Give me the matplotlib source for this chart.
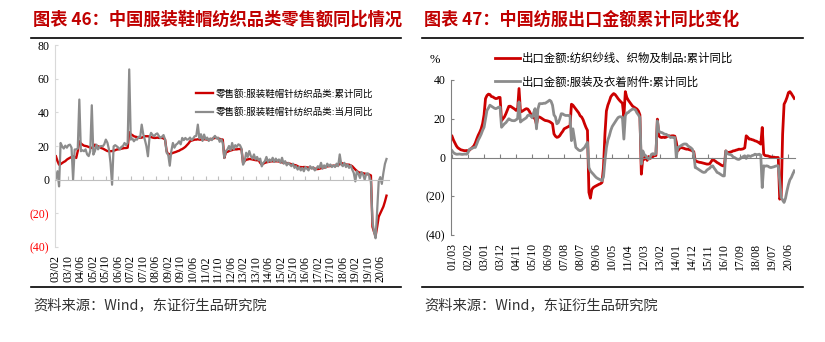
import matplotlib
matplotlib.use("Agg")
import matplotlib.pyplot as plt
import pandas as pd

plt.rcParams['font.family'] = ['Noto Sans CJK SC', 'DejaVu Sans']

RED = '#CC0000'
GRAY = '#8C8C8C'
TITLE_RED = '#C00000'

# ---- chart 46: retail sales of clothing/shoes/hats/textiles, 2003/02 - 2020/10
retail_start = '2003-02'
retail_cum = [
    13.9, 11, 8.9, 9.2, 9.9, 10.5, 11, 11.9, 12.5, 13, 13.5,              # 2003
    13.9, 13.5, 12.9, 17, 22.8, 21.5, 20.8, 20.2, 20, 19.8, 19.4, 19.2,   # 2004
    18.8, 19.5, 20.8, 20.2, 19.8, 19.5, 18.8, 18.5, 18, 17.5, 17, 16.9,   # 2005
    16.9, 17, 17.2, 17.5, 17.9, 18, 18.2, 18.4, 18.6, 18.8, 18.8, 19,     # 2006
    28.2, 27, 26.5, 25.8, 25.5, 25.3, 25, 24.8, 25, 25.3, 25.8, 25.8,     # 2007
    25.8, 25.5, 25.3, 25, 24.8, 24.8, 25, 24.8, 24.8, 24.8, 24.5, 23.8,   # 2008
    17, 14.9, 15.2, 15.5, 15.9, 16.2, 16.5, 16.9, 17.2, 17.8, 18.2, 18.8,  # 2009
    19.5, 20.5, 21.5, 22.8, 23.2, 23.5, 23.8, 23.8, 24, 23.8, 23.8, 23.8,  # 2010
    24, 24, 23.8, 23.8, 24, 24.2, 24.5, 24.8, 24.8, 24.5, 24.2, 24,       # 2011
    23.8, 12.9, 16.3, 16.5, 17, 17.3, 17.6, 17.9, 18, 18, 18.2, 18.2,     # 2012
    18, 9.9, 11, 11.9, 12, 12.3, 12.2, 12, 11.8, 11.6, 11.5, 11.5,        # 2013
    10, 8.9, 9.5, 10, 10.3, 10.5, 10.7, 10.9, 10.9, 10.9, 10.9, 10.9,     # 2014
    10.8, 10.5, 10.3, 10, 9.9, 9.9, 9.7, 9.5, 9.2, 8.9, 8.7, 8.5,         # 2015
    8, 7.5, 7.5, 7.4, 7.5, 7.5, 7.3, 7.2, 7, 7, 6.8, 6.6,                 # 2016
    6.3, 6.3, 6.5, 6.8, 7, 7.2, 7.5, 7.9, 8, 8.1, 8.2, 8.3,               # 2017
    8.3, 8.5, 8.8, 9.2, 9.9, 9.6, 9.3, 9, 8.9, 8.9, 8.5, 8,               # 2018
    7, 6, 5.2, 4.4, 4.2, 4, 3.8, 3.6, 3.4, 3.2, 3, 2.5,                   # 2019
    -28, -31, -33.5, -28, -22, -20, -18, -16, -13, -9.5,                  # 2020
]
retail_month = [
    1, 5, -4, 21.8, 19.8, 18.5, 20.2, 19, 20.5, 20.8, 19,                 # 2003
    0, 17.9, 18, 18.5, 47.6, 16.9, 17.5, 16.9, 18, 15, 14, 17,            # 2004
    44.2, 14.9, 17, 20.8, 18, 19.5, 20, 19.8, 21, 23.8, 22, 18,           # 2005
    10, -3, 19.8, 20.5, 19.8, 19, 17.9, 19.5, 20, 21.8, 20.5, 21.8,       # 2006
    65.5, 23.8, 24.5, 22.8, 24, 23.8, 25.5, 25, 32.7, 27, 23.8, 20,       # 2007
    13.9, 25, 27.8, 26.5, 25.8, 27, 27.5, 26, 24.8, 25.5, 26.5, 23.8,     # 2008
    16, 14.9, 8.3, 17, 21.8, 19, 20.8, 21.5, 22.8, 21, 24.8, 23.5,        # 2009
    24.8, 23.8, 24, 25, 23.5, 24.5, 25.8, 26, 32.7, 24.5, 27, 23,         # 2010
    26.8, 24, 25, 23, 24.5, 23.5, 25, 26, 24.5, 25, 22.5, 24,             # 2011
    21.8, 12.9, 17, 18, 20, 17.5, 21.8, 18, 20.5, 19.5, 21, 20.5,         # 2012
    18.5, 8.9, 11, 16, 13.5, 17, 14, 12.5, 15, 12, 13.5, 11.5,            # 2013
    12.5, 7.9, 10, 11, 13.5, 10.5, 12, 11, 13, 10.5, 12.5, 11,            # 2014
    12, 10, 13, 9.5, 11, 8.5, 10, 9, 8, 9.5, 7, 8,                        # 2015
    6, 7.5, 5.5, 7, 5, 7.5, 6.5, 5.5, 8, 6.5, 7.5, 5.5,                   # 2016
    6.5, 8, 7, 10, 6.5, 8.5, 7, 9.5, 8, 9, 7.5, 8.5,                      # 2017
    7.5, 9.5, 8, 15, 9, 8, 10, 7.5, 9, 7, 8.5, 6,                         # 2018
    4, -1, 5, 3.5, 1, 4.5, 3, 0, 3.5, 3.8, 2, -1,                         # 2019
    -25, -31, -34.8, -18.5, -1, 1.5, -2.5, 4, 9.4, 12.3,                  # 2020
]
retail_labels = ['零售额:服装鞋帽针纺织品类:累计同比',
                 '零售额:服装鞋帽针纺织品类:当月同比']

# ---- chart 47: textile / apparel exports, cumulative yoy, 2001/03 - 2020/10
export_start = '2001-03'
textile_cum = [
    11, 9, 7.5, 6, 5, 4.5, 4, 3.8, 3.6, 3.5,                              # 2001
    3.6, 3.5, 3.8, 4.5, 5.2, 6, 7.5, 9.6, 11.5, 13, 14.8, 17.5,           # 2002
    22, 30.4, 32, 32.7, 32.5, 31.5, 31.3, 30.8, 30.4, 30.5, 31, 31,       # 2003
    19, 20, 21, 22.6, 24.5, 26.4, 26.5, 26, 25.5, 25, 24.3, 24.5,         # 2004
    35.6, 23.5, 23.8, 24.3, 24.8, 25.2, 25, 24, 22.5, 21.7, 20.5, 20,     # 2005
    17, 21, 20.9, 20.5, 20, 19.5, 19.1, 19, 18.8, 18.5, 18, 17.4,         # 2006
    12.2, 11, 10.4, 10.6, 11.3, 12.5, 13.5, 14.8, 15.2, 15.6, 16, 16.2,   # 2007
    27.5, 27, 26, 25, 24, 23, 21.5, 20.9, 19.5, 17.4, 15.5, 14,           # 2008
    -18, -21, -16.5, -15.5, -15, -14.6, -14.2, -13.8, -13.5, -12.9, -5, 12,  # 2009
    24, 27, 29, 31.3, 32.3, 33, 32.5, 31.5, 30.4, 29.5, 28.7, 28,         # 2010
    20.9, 34, 31, 29.6, 28.5, 27.5, 26.5, 26, 25.5, 25, 24, 22,           # 2011
    -8.6, 0, -1, 0.5, -1.5, 0.5, -0.5, 0, 0.5, 1, 1, 19.8,                # 2012
    11.2, 10.5, 10.3, 10.5, 10.3, 10.5, 11, 11.2, 11, 11.2, 11.2, 11,     # 2013
    8, 3.4, 4.5, 5.2, 5, 4.8, 4.5, 4.3, 4.3, 4, 3.8, 3.4,                 # 2014
    3, -1.7, -2, -2.3, -2.5, -2.6, -2.8, -3, -3.2, -3.4, -3.4, -3.2,      # 2015
    -2, -0.9, -1.5, -2, -2.6, -3, -3.5, -4, -4.3, -4.3, 3.4, 2.6,         # 2016
    2.6, 2.8, 3, 3.4, 3.5, 3.8, 4, 4.3, 4.2, 4.3, 4.5, 5,                 # 2017
    11.2, 10.5, 9.5, 9.5, 9.2, 9, 8.6, 8.4, 8, 7.5, 6.9, 15.5,            # 2018
    1.7, 1, 0.9, 0.8, 0.5, 0.3, 0, 0.2, 0, 0, 0, -21.5,                   # 2019
    -20, 12, 27.5, 29, 31, 33.5, 34, 33, 31.8, 30.5,                      # 2020
]
apparel_cum = [
    3.5, 2.5, 2, 1.7, 1.7, 1.8, 1.7, 1.6, 1.7, 1.8,                       # 2001
    1.7, 2.5, 4.3, 4.5, 4.8, 5.2, 5.2, 7, 9, 10.4, 12, 14,                # 2002
    15.6, 20, 24.3, 25.5, 27, 26.5, 26, 25.5, 25.2, 25.5, 26, 26,         # 2003
    15.6, 16.5, 17.4, 18, 19, 20, 19.5, 19.1, 19, 19, 19.5, 20,           # 2004
    28.7, 18.3, 19, 19.5, 20, 20.5, 21.7, 22, 21.5, 20.5, 23, 25.2,       # 2005
    14.8, 25, 27.8, 27.8, 27.8, 28, 28, 28.5, 29, 29.6, 29, 27,           # 2006
    22, 20.9, 17.4, 18, 20, 22.6, 22.5, 22, 21.7, 21.7, 21.7, 21.5,       # 2007
    8.7, 14.8, 10, 5.2, 4.5, 3.8, 3.5, 3.8, 4.5, 5.2, 6.5, 7.8,           # 2008
    -5.2, -6.9, -7.8, -8.6, -9.5, -10.3, -10.8, -11.2, -11.5, -12, -10, -1.7,  # 2009
    5, 9, 11.2, 14, 16, 17.2, 18.5, 19.5, 20.6, 21, 21, 20.8,             # 2010
    9.5, 21.5, 23, 23.2, 24, 24.5, 25, 25, 24.5, 23, 22, 20.6,            # 2011
    -3.4, 3.4, 1.5, 0.9, 0, -0.9, 0, 1.7, 2, 1.5, 2, 18.9,                # 2012
    13.7, 13, 12.9, 12.5, 12, 12, 11.5, 11, 10.3, 10.5, 10.3, 10.3,       # 2013
    0, 5.2, 5.5, 6, 6.5, 6.9, 7, 6.9, 6, 5.5, 5, 4.3,                     # 2014
    2, -5.2, -5.5, -6, -6.5, -7, -7.5, -7.7, -7.5, -6.5, -6, -5.5,        # 2015
    -4.5, -4.3, -5.5, -6.5, -7.7, -8, -8.5, -9, -9.5, -9.5, 3.4, 2,       # 2016
    1.7, 1.5, 1.2, 0.3, 0, -0.5, -0.9, -1, -0.5, 0, 0.5, 0.9,             # 2017
    -0.5, 0.9, 0.8, 0.5, 1, 1.2, 1.7, 1.5, 1.5, 1.7, 1.2, -15.5,          # 2018
    -4.3, -4.5, -4.3, -4.5, -5, -5.2, -5, -4.8, -4.5, -4.3, -4.3, -12,    # 2019
    -20.6, -22, -23.2, -21, -17.2, -14, -11.5, -10.3, -8.5, -6.9,         # 2020
]
export_labels = ['出口金额:纺织纱线、织物及制品:累计同比',
                 '出口金额:服装及衣着附件:累计同比']

titles = ['图表 46：中国服装鞋帽纺织品类零售额同比情况',
          '图表 47：中国纺服出口金额累计同比变化']
source = '资料来源：Wind，东证衍生品研究院'


def paren_fmt(v):
    v = int(round(v))
    return '({})'.format(-v) if v < 0 else str(v)


def setup_axis(ax, n, step, start, yticks, zero_color, spine_color):
    dates = pd.date_range(start, periods=n, freq='MS')
    ticks = list(range(0, n, step))
    labels = [dates[i].strftime('%y/%m') for i in ticks]
    for side in ['top', 'right']:
        ax.spines[side].set_visible(False)
    ax.spines['left'].set_color(spine_color)
    ax.spines['bottom'].set_position(('data', 0))
    ax.spines['bottom'].set_color(zero_color)
    ax.set_xticks(ticks)
    ax.tick_params(axis='x', direction='in', length=3, color=zero_color,
                   labelbottom=False)
    sec = ax.secondary_xaxis('bottom')
    sec.set_xticks(ticks)
    sec.set_xticklabels(labels, rotation=90, family='Liberation Serif',
                        fontsize=8.5)
    sec.tick_params(length=0, pad=6)
    sec.spines['bottom'].set_visible(False)
    ax.set_yticks(yticks)
    ax.set_yticklabels([paren_fmt(v) for v in yticks],
                       family='Liberation Serif', fontsize=8.5)
    ax.tick_params(axis='y', direction='in', length=2, color=spine_color,
                   pad=4)
    ax.set_ylim(yticks[0], yticks[-1])
    return sec


fig = plt.figure(figsize=(8.25, 3.42), dpi=100)

# left chart
ax1 = fig.add_axes([55 / 825, 95 / 342, 334 / 825, 202 / 342])
n1 = len(retail_cum)
x1 = list(range(n1))
ax1.plot(x1, retail_cum, color=RED, lw=1.7, label=retail_labels[0])
ax1.plot(x1, retail_month, color=GRAY, lw=1.6, label=retail_labels[1])
setup_axis(ax1, n1, 8, retail_start, [-40, -20, 0, 20, 40, 60, 80],
           '#BFBFBF', '#D9D9D9')
ax1.set_xlim(-0.6, n1 + 0.6)
for t, v in zip(ax1.get_yticklabels(), [-40, -20, 0, 20, 40, 60, 80]):
    if v < 0:
        t.set_color('#FF0000')
ax1.legend(loc='upper left', bbox_to_anchor=(196 / 825, 1 - 89 / 342),
           bbox_transform=fig.transFigure, frameon=False, fontsize=6.8,
           handlelength=1.85, handletextpad=0.2, labelspacing=0.95,
           borderpad=0, borderaxespad=0)

# right chart
ax2 = fig.add_axes([451 / 825, 107 / 342, 344 / 825, 155 / 342])
n2 = len(textile_cum)
x2 = list(range(n2))
ax2.plot(x2, textile_cum, color=RED, lw=2, label=export_labels[0])
ax2.plot(x2, apparel_cum, color=GRAY, lw=2, label=export_labels[1])
setup_axis(ax2, n2, 11, export_start, [-40, -20, 0, 20, 40],
           '#808080', '#808080')
ax2.set_xlim(-0.7, n2 - 0.5)
ax2.legend(loc='upper left', bbox_to_anchor=(495 / 825, 1 - 53 / 342),
           bbox_transform=fig.transFigure, frameon=False, fontsize=8.2,
           handlelength=2.2, handletextpad=0.15, labelspacing=1.05,
           borderpad=0, borderaxespad=0)
fig.text(435 / 825, 1 - 60 / 342, '%', fontsize=9,
         family='Liberation Serif', ha='center', va='center')

# titles, rules and source lines
for x0, x_end, title, fs in [(31, 401, titles[0], 12.4),
                             (422, 803, titles[1], 12.3)]:
    fig.text((x0 + 2) / 825, 1 - 20 / 342, title, fontsize=fs,
             fontweight='bold', color=TITLE_RED, va='center', ha='left')
    fig.add_artist(plt.Line2D([x0 / 825, x_end / 825],
                              [1 - 38 / 342, 1 - 38 / 342],
                              color='black', lw=1.2))
    fig.add_artist(plt.Line2D([x0 / 825, x_end / 825],
                              [1 - 287 / 342, 1 - 287 / 342],
                              color='black', lw=1.2))
    fig.text((x0 + 2) / 825, 1 - 305 / 342, source, fontsize=10.3,
             color='#333333', va='center', ha='left')

fig.savefig('out.png', dpi=100)
